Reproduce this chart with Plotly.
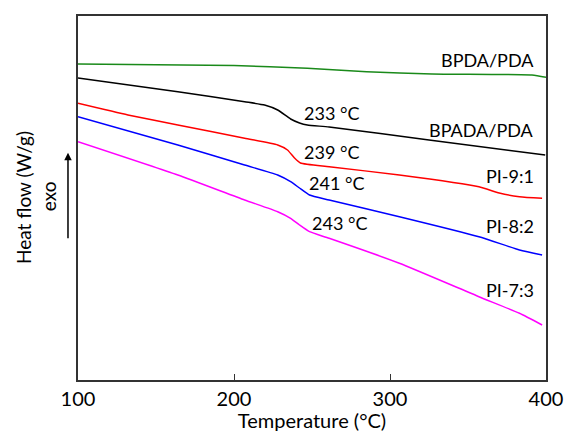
import plotly.graph_objects as go

# Temperatures (°C) and heat flow (arbitrary units)
t_bpda = [100, 200, 247, 285, 327, 391, 400]
hf_bpda = [316, 314.5, 311.7, 308.3, 306, 305, 302.7]

t_bpada = [100, 164, 206.8, 219.6, 228, 236.3, 242, 247, 261, 325, 399.5]
hf_bpada = [302, 288.3, 278.3, 275, 270, 261, 257, 255, 253, 240, 225]

t_91 = [100, 132, 164, 206.8, 228, 234.3, 238.8, 242.6, 261, 306, 357, 370, 383, 397.5]
hf_91 = [276.7, 265, 255, 241.7, 235, 230, 222, 217, 213.3, 205, 193.3, 187, 183.3, 181.7]

t_82 = [100, 164, 206.8, 228, 236.3, 242, 248.4, 261, 306, 357, 383, 397.5]
hf_82 = [263.3, 235, 215, 205, 198.3, 192, 185, 180, 163.3, 143.3, 130, 125]

t_73 = [100, 164, 206.8, 228, 236.3, 242, 248.4, 261, 306, 357, 383, 397.5]
hf_73 = [238.3, 205, 180, 168.3, 161.7, 155, 148.3, 141.7, 116.7, 83.3, 66.7, 55]

series = [
    ("BPDA/PDA", t_bpda, hf_bpda, "#1a8a1a"),
    ("BPADA/PDA", t_bpada, hf_bpada, "#000000"),
    ("PI-9:1", t_91, hf_91, "#ff0000"),
    ("PI-8:2", t_82, hf_82, "#0000ff"),
    ("PI-7:3", t_73, hf_73, "#ff00ff"),
]

# curve name labels (x, y positions in data units)
name_lab_x = [393.6, 393.6, 393.6, 393.6, 393.6]
name_lab_y = [320, 250, 204, 154, 90]

tg_labels = ["233 °C", "239 °C", "241 °C", "243 °C"]
tg_lab_x = [243.9, 243.9, 246.5, 248.4]
tg_lab_y = [267, 228, 197, 157]

FONT = "Lato"
FS = 18
FS_AX = 20

fig = go.Figure()
for name, t, hf, col in series:
    fig.add_trace(go.Scatter(x=t, y=hf, mode="lines", name=name,
                             line=dict(color=col, width=1.5, shape="spline", smoothing=0.5),
                             showlegend=False))

ann = []
for (name, _, _, _), xx, yy in zip(series, name_lab_x, name_lab_y):
    ann.append(dict(x=xx, y=yy, xref="x", yref="y", text=name, showarrow=False,
                    xanchor="right", yanchor="middle", font=dict(size=FS, color="black", family=FONT)))
for txt, xx, yy in zip(tg_labels, tg_lab_x, tg_lab_y):
    ann.append(dict(x=xx, y=yy, xref="x", yref="y", text=txt, showarrow=False,
                    xanchor="left", yanchor="middle", font=dict(size=FS, color="black", family=FONT)))

ann.append(dict(x=-0.1175, y=0.5, xref="paper", yref="paper", text="Heat flow (W/g)",
                textangle=-90, showarrow=False, xanchor="center", yanchor="middle",
                font=dict(size=FS + 1, color="black", family=FONT)))
ann.append(dict(x=-0.0641, y=0.505, xref="paper", yref="paper", text="exo",
                textangle=-90, showarrow=False, xanchor="center", yanchor="middle",
                font=dict(size=FS + 1, color="black", family=FONT)))
ann.append(dict(x=-0.0214, y=0.624, xref="paper", yref="paper", text="",
                showarrow=True, ax=0, ay=87, axref="pixel", ayref="pixel",
                arrowhead=2, arrowsize=1, arrowwidth=1.5, arrowcolor="black"))

fig.update_layout(
    width=565, height=432,
    margin=dict(l=78, r=19, t=16, b=52, autoexpand=False),
    paper_bgcolor="white", plot_bgcolor="white",
    font=dict(family=FONT, size=FS, color="black"),
    annotations=ann,
    xaxis=dict(range=[100, 400], tickvals=[100, 200, 300, 400], ticks="inside", ticklen=6,
               tickcolor="#333", tickwidth=1.3, automargin=False,
               showline=True, linecolor="#333", linewidth=1.5, mirror=True, showgrid=False,
               zeroline=False, title=dict(text="Temperature (°C)", standoff=2, font=dict(size=FS_AX)),
               tickfont=dict(size=FS_AX)),
    yaxis=dict(range=[0, 364], showticklabels=False, ticks="", showline=True, linecolor="#333",
               linewidth=1.5, mirror=True, showgrid=False, zeroline=False, automargin=False),
)

fig.write_html("out.html")
